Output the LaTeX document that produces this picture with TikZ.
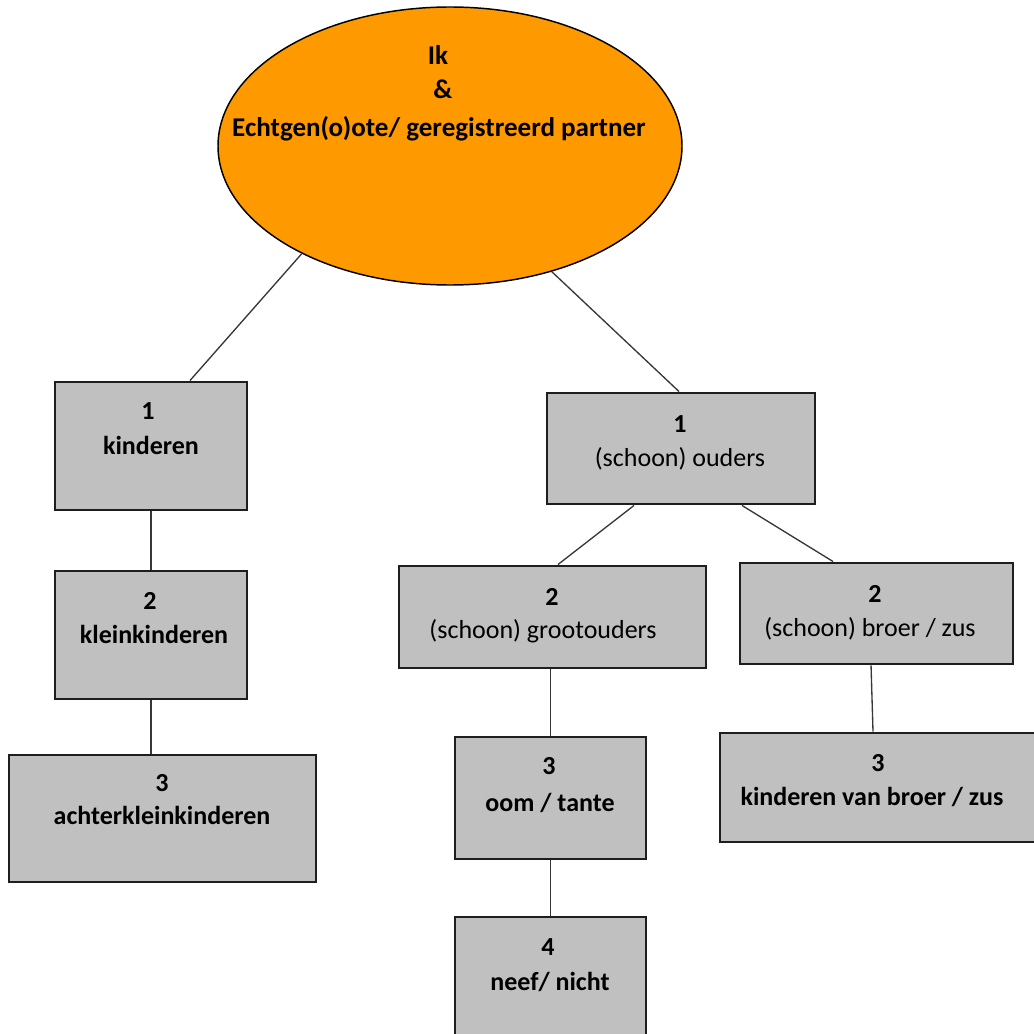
\documentclass[tikz,border=0pt]{standalone}
\usepackage{fontspec}
\setmainfont{Carlito}
\usetikzlibrary{shapes.geometric}
\definecolor{ikorange}{RGB}{255,153,0}
\definecolor{boxgray}{RGB}{192,192,192}
\definecolor{boxline}{RGB}{30,30,30}
\definecolor{conn}{RGB}{55,55,55}
\tikzset{
  famrect/.style={draw=boxline, fill=boxgray, line width=2.2pt, rectangle, inner sep=0pt},
  ikell/.style={draw=black, fill=ikorange, line width=1.1pt, ellipse, inner sep=0pt,
    minimum width=464*0.75pt, minimum height=278*0.75pt},
  conline/.style={draw=conn, line width=1pt},
  numtxt/.style={anchor=base, inner sep=0pt, font=\fontsize{19.5}{23}\selectfont\bfseries},
  wordtxt/.style={anchor=base, inner sep=0pt, font=\fontsize{19.5}{23}\selectfont\bfseries},
  schtxt/.style={anchor=base, inner sep=0pt, font=\fontsize{19.5}{23}\selectfont},
  elltxt/.style={anchor=base, inner sep=0pt, font=\fontsize{20.3}{24}\selectfont\bfseries},
}
\begin{document}
\begin{tikzpicture}[x=0.75pt,y=-0.75pt]
\useasboundingbox (0,0) rectangle (1033,1034);

% ellipse
\node[ikell] (ell) at (450,146) {};
\node[elltxt] (e1) at (438,65) {Ik};
\node[elltxt] (e2) at (443,99) {\&};
\node[elltxt] (e3) at (439,137) {Echtgen(o)ote/ geregistreerd partner};

% boxes
\node[famrect, minimum width=192*0.75pt, minimum height=128*0.75pt] (A) at (151,446) {};
\node[famrect, minimum width=192*0.75pt, minimum height=128*0.75pt] (B) at (151,635) {};
\node[famrect, minimum width=307*0.75pt, minimum height=127*0.75pt] (C) at (162.5,818.5) {};
\node[famrect, minimum width=268*0.75pt, minimum height=111*0.75pt] (D) at (681,448.5) {};
\node[famrect, minimum width=307*0.75pt, minimum height=102*0.75pt] (E) at (552.5,617) {};
\node[famrect, minimum width=273*0.75pt, minimum height=101*0.75pt] (F) at (876.5,613.5) {};
\node[famrect, minimum width=191*0.75pt, minimum height=122*0.75pt] (G) at (550.5,798) {};
\node[famrect, minimum width=191*0.75pt, minimum height=122*0.75pt] (H) at (550.5,978) {};
\node[famrect, minimum width=340*0.75pt, minimum height=109*0.75pt] (I) at (890,787.5) {};

% texts
\node[numtxt] (a1) at (148,419) {1};
\node[wordtxt] (a2) at (151,454) {kinderen};
\node[numtxt] (b1) at (150,609) {2};
\node[wordtxt] (b2) at (154,643) {kleinkinderen};
\node[numtxt] (c1) at (162,791) {3};
\node[wordtxt] (c2) at (162,824) {achterkleinkinderen};
\node[numtxt] (d1) at (680,432) {1};
\node[schtxt] (d2) at (680,466) {(schoon) ouders};
\node[numtxt] (f1) at (552,605) {2};
\node[schtxt] (f2) at (543,638) {(schoon) grootouders};
\node[numtxt] (g1) at (875,602) {2};
\node[schtxt] (g2) at (870,636) {(schoon) broer / zus};
\node[numtxt] (h1) at (549,774) {3};
\node[wordtxt] (h2) at (550,811) {oom / tante};
\node[numtxt] (i1) at (548,955) {4};
\node[wordtxt] (i2) at (550,990) {neef/ nicht};
\node[numtxt] (j1) at (878,771) {3};
\node[wordtxt] (j2) at (872,805) {kinderen van broer / zus};

% connectors
\draw[conline] (ell.216) -- ([xshift=29.25pt]A.north);
\draw[conline] (A.south) -- (B.north);
\draw[conline] (B.south) -- (B.south |- C.north);
\draw[conline] (ell.309) -- ([xshift=-1.5pt]D.north);
\draw[conline] ([xshift=-35.25pt]D.south) -- ([xshift=4.1pt]E.north);
\draw[conline] ([xshift=45.75pt]D.south) -- ([xshift=-32.6pt]F.north);
\draw[conline] (G.north |- E.south) -- (G.north);
\draw[conline] (G.south) -- (H.north);
\draw[conline] ([xshift=-4.1pt]F.south) -- ([xshift=-12.75pt]I.north);
\end{tikzpicture}
\end{document}
